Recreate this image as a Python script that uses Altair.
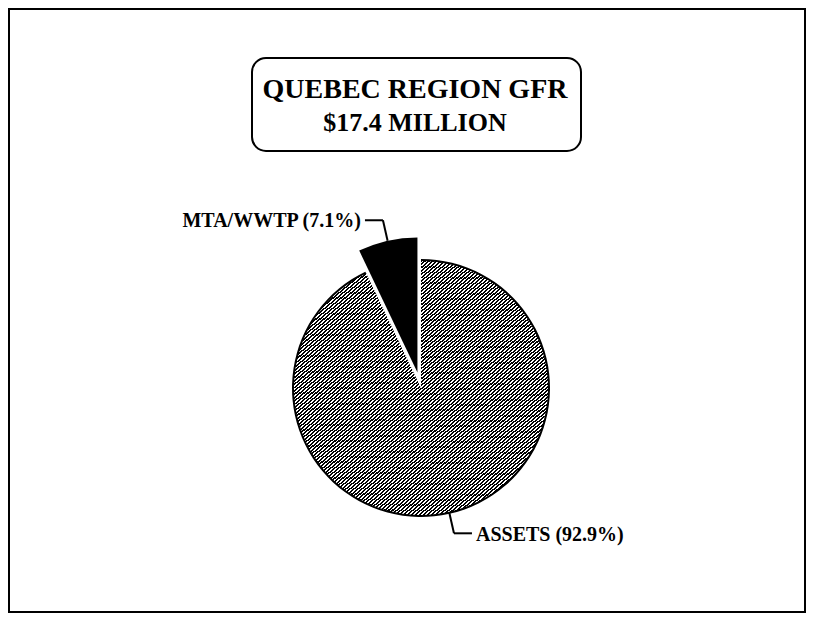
import altair as alt
import pandas as pd

# ---- data ----
categories = ["ASSETS", "MTA/WWTP"]
shares = [92.9, 7.1]
exploded = ["MTA/WWTP"]
title_lines = ["QUEBEC REGION GFR", "$17.4 MILLION"]

df = pd.DataFrame({"category": categories, "share": shares,
                   "order": list(range(len(categories)))})
title_df = pd.DataFrame({"line": title_lines, "row": list(range(len(title_lines)))})

# ---- layout / style ----
W, H = 798, 605
CX, CY = 413, 380          # pie centre in the plot area
R = 128                    # pie radius
R_EXP = 135                # radius of the pulled-out slice
EXPLODE = 16               # pull-out distance
LEAD = 21                  # radial part of leader
ELBOW = 18                 # horizontal part of leader
FONT = "Liberation Serif"

# diagonal hatch built as a hard-stop linear gradient
n_stripes = 140
black_frac = 0.56
stops = []
for i in range(n_stripes):
    a = i / n_stripes
    b = (i + black_frac) / n_stripes
    c = (i + 1) / n_stripes
    stops += [{"offset": a, "color": "#000000"},
              {"offset": b, "color": "#000000"},
              {"offset": b, "color": "#ffffff"},
              {"offset": c, "color": "#ffffff"}]
hatch = {"gradient": "linear", "x1": 0, "y1": 0, "x2": 0.906, "y2": 1.079,
         "stops": stops}

base = alt.Chart(df).transform_window(
    cum="sum(share)", sort=[alt.SortField("order")], frame=[None, 0]
).transform_joinaggregate(
    total="sum(share)"
).transform_calculate(
    start="datum.cum - datum.share",
    end="datum.cum",
    mid="2 * PI * (datum.cum - datum.share / 2) / datum.total",
    off=f"indexof({exploded}, datum.category) >= 0 ? {EXPLODE} : 0",
    rr=f"indexof({exploded}, datum.category) >= 0 ? {R_EXP} : {R}",
).transform_calculate(
    cx=f"{CX} + datum.off * sin(datum.mid)",
    cy=f"{CY} - datum.off * cos(datum.mid)",
    side="sin(datum.mid) >= 0 ? 1 : -1",
).transform_calculate(
    x1="datum.cx + datum.rr * sin(datum.mid)",
    y1="datum.cy - datum.rr * cos(datum.mid)",
    x2=f"datum.cx + (datum.rr + {LEAD}) * sin(datum.mid)",
    y2=f"datum.cy - (datum.rr + {LEAD}) * cos(datum.mid)",
).transform_calculate(
    x3=f"datum.x2 + datum.side * {ELBOW}",
    tx=f"datum.x2 + datum.side * {ELBOW + 4}",
    label="datum.category + ' (' + format(datum.share, '.1f') + '%)'",
)

theta = alt.Theta("start:Q", scale=alt.Scale(domain=[0, 100], range=[0, 6.283185307179586]))
cx_enc = alt.X("cx:Q", scale=None, axis=None)
cy_enc = alt.Y("cy:Q", scale=None, axis=None)

hatched = base.transform_filter("datum.off == 0").mark_arc(
    radius=R, fill=hatch, strokeWidth=0
).encode(theta=theta, theta2="end:Q", x=cx_enc, y=cy_enc)

outline = base.transform_filter("datum.off == 0").mark_arc(
    radius=R + 1, radius2=R - 1, color="#000000"
).encode(theta=theta, theta2="end:Q", x=cx_enc, y=cy_enc)

solid = base.transform_filter("datum.off > 0").mark_arc(
    radius=R_EXP, color="#000000"
).encode(theta=theta, theta2="end:Q", x=cx_enc, y=cy_enc)

lead1 = base.mark_rule(color="#000000", strokeWidth=2).encode(
    x=alt.X("x1:Q", scale=None, axis=None), y=alt.Y("y1:Q", scale=None, axis=None),
    x2="x2:Q", y2="y2:Q")
lead2 = base.mark_rule(color="#000000", strokeWidth=2).encode(
    x=alt.X("x2:Q", scale=None, axis=None), y=alt.Y("y2:Q", scale=None, axis=None),
    x2="x3:Q", y2="y2:Q")

text_right = base.transform_filter("datum.side > 0").mark_text(
    align="left", baseline="middle", dy=2, font=FONT, fontWeight="bold",
    fontSize=20, color="#000000"
).encode(x=alt.X("tx:Q", scale=None, axis=None),
         y=alt.Y("y2:Q", scale=None, axis=None), text="label:N")
text_left = base.transform_filter("datum.side < 0").mark_text(
    align="right", baseline="middle", dy=1, font=FONT, fontWeight="bold",
    fontSize=20, color="#000000"
).encode(x=alt.X("tx:Q", scale=None, axis=None),
         y=alt.Y("y2:Q", scale=None, axis=None), text="label:N")

# title box
tbase = alt.Chart(title_df)
tbox = tbase.transform_filter("datum.row == 0").mark_rect(
    cornerRadius=14, fill="#ffffff", stroke="#000000", strokeWidth=2
).encode(x=alt.value(244), x2=alt.value(573), y=alt.value(50), y2=alt.value(143))
ttext = tbase.transform_calculate(
    ty="datum.row == 0 ? 90 : 123",
    fs="datum.row == 0 ? 28 : 26",
).mark_text(
    align="center", baseline="alphabetic", font=FONT, fontWeight="bold",
    color="#000000"
).encode(x=alt.value(407), y=alt.Y("ty:Q", scale=None, axis=None),
         size=alt.Size("fs:Q", scale=None, legend=None), text="line:N")

chart = alt.layer(
    tbox, ttext, hatched, outline, solid, lead1, lead2, text_right, text_left
).properties(
    width=W, height=H, padding=0, autosize=alt.AutoSizeParams(type="none"),
    background="#ffffff"
).configure_view(stroke="#000000", strokeWidth=4)

chart.save("out.html", embed_options={"renderer": "svg", "actions": False})
